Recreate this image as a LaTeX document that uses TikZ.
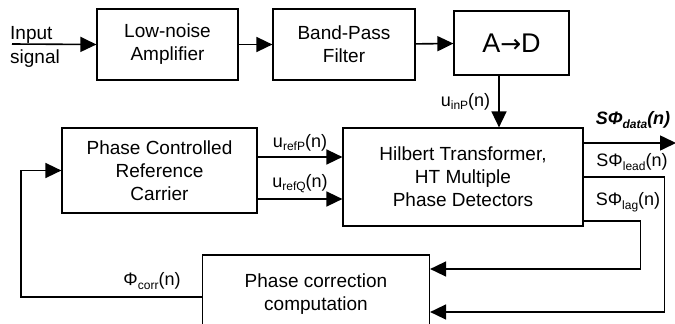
\documentclass[tikz,border=0pt]{standalone}
\usepackage{fontspec}
\setmainfont{Liberation Sans}
\newfontfamily\arrowfont{DejaVu Sans}
\usetikzlibrary{arrows.meta,positioning}
\newcommand\lowtxt[1]{\raisebox{-3.5pt}{\fontsize{12}{12}\selectfont #1}}

\begin{document}
\begin{tikzpicture}[
  x=1pt,y=-1pt,
  sig/.style={-{Triangle[length=16pt,width=15pt]},line width=1.6pt},
  block/.style={draw,line width=1.2pt,align=center,inner sep=0pt,font=\fontsize{19}{23}\selectfont},
  lbl/.style={inner sep=0pt,font=\fontsize{18}{21}\selectfont}
]
  \useasboundingbox (0,0) rectangle (675,324);
  \clip (0,0) rectangle (675,324);

  \node[block,minimum width=141pt,minimum height=71pt] (lna) at (167.5,44.5) {Low-noise\\Amplifier};
  \node[block,minimum width=142pt,minimum height=71pt] (bpf) at (344,44.5) {Band-Pass\\Filter};
  \node[block,minimum width=115pt,minimum height=64pt,font=\fontsize{27}{30}\selectfont] (adc) at (511.5,43) {A{\arrowfont\fontsize{25}{30}\selectfont→}D};
  \node[block,minimum width=195pt,minimum height=85pt] (pcrc) at (159.5,170.5) {Phase Controlled\\Reference\\Carrier};
  \node[block,minimum width=240pt,minimum height=98pt] (ht) at (463,177) {Hilbert Transformer,\\HT Multiple\\Phase Detectors};
  \node[block,minimum width=227pt,minimum height=78pt] (pcc) at (316,294) {Phase correction\\computation};

  % input side
  \coordinate (in) at (12,44);
  \node[inner sep=0pt,anchor=west,align=left,font=\fontsize{19}{24}\selectfont] (insig) at (10,46.5) {Input\\signal};
  \coordinate (dataout) at (676,143);

  \draw[sig] (in) -- (lna.west);
  \draw[sig] (lna) -- (bpf);
  \draw[sig] (bpf) -- (adc);
  \draw[sig] ([xshift=-12.5pt]adc.south) -- node[lbl,left=8pt] {u\lowtxt{inP}(n)} ([xshift=36pt]ht.north);

  \draw[sig] ([yshift=13.5pt]pcrc.east) -- node[lbl,above=5pt] {u\lowtxt{refP}(n)} ([yshift=20pt]ht.west);
  \draw[sig] ([yshift=-28.5pt]pcrc.east) -- node[lbl,above=5pt] {u\lowtxt{refQ}(n)} ([yshift=-22pt]ht.west);

  % outputs of the detectors
  \draw[sig] ([yshift=34pt]ht.east) -- (dataout);
  \node[lbl,font=\fontsize{18}{21}\selectfont\bfseries\itshape] (datalbl) at (633,120) {SΦ\lowtxt{data}(n)};
  \draw[sig] (ht.east) -- ++(81,0) |- ([yshift=-18pt]pcc.east);
  \node[lbl] (leadlbl) at (632,162) {SΦ\lowtxt{lead}(n)};
  \draw[sig] ([yshift=-44pt]ht.east) -- ++(57,0) |- ([yshift=25pt]pcc.east);
  \node[lbl] (laglbl) at (628,202) {SΦ\lowtxt{lag}(n)};

  % correction fed back
  \draw[sig] ([yshift=-3pt]pcc.west) -- ++(-181,0) |- (pcrc.west);
  \node[lbl] (corrlbl) at (152,281) {Φ\lowtxt{corr}(n)};
\end{tikzpicture}
\end{document}
